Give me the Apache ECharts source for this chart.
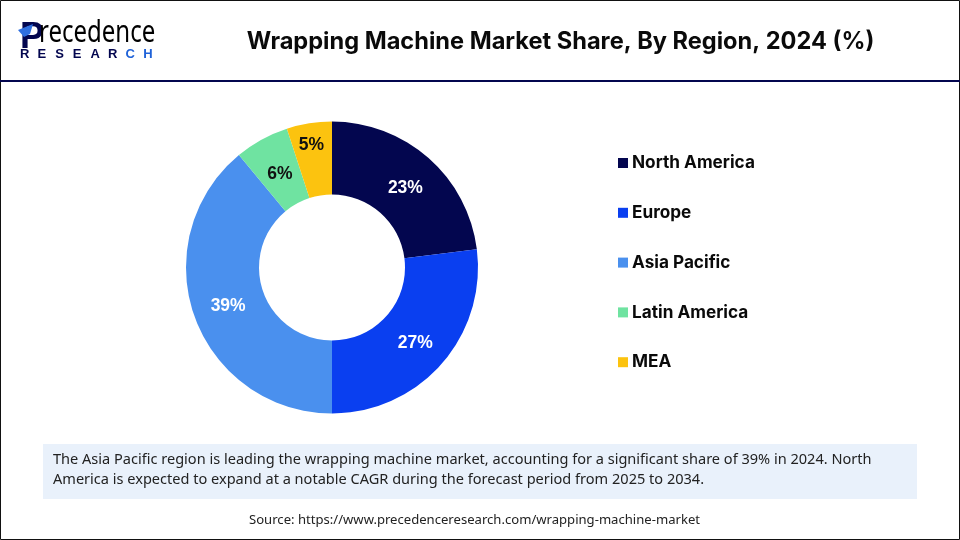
<!DOCTYPE html>
<html>
<head>
<meta charset="utf-8">
<style>
html, body { margin: 0; padding: 0; background: #fff; }
#chart { width: 960px; height: 540px; }
</style>
<script src="https://cdn.jsdelivr.net/npm/echarts@6/dist/echarts.min.js"></script>
</head>
<body>
<div id="chart"></div>
<script>
var regions = ['North America', 'Europe', 'Asia Pacific', 'Latin America', 'MEA'];
var shares = [23, 27, 39, 6, 5];
var colors = ['#03064f', '#0a3ff0', '#4a90ee', '#6fe3a1', '#fcc30f'];
var labelColors = ['#fff', '#fff', '#fff', '#111', '#111'];
// the source moved some labels by hand
var labelNudge = [[-1, 5], [-1, 1], [2, 1], [2, 5], [-3, -11]];

var titleText = 'Wrapping Machine Market Share, By Region, 2024 (%)';
var noteLines = [
    'The Asia Pacific region is leading the wrapping machine market, accounting for a significant share of 39% in 2024. North',
    'America is expected to expand at a notable CAGR during the forecast period from 2025 to 2034.'
];
var sourceText = 'Source: https://www.precedenceresearch.com/wrapping-machine-market';
var logoLetters = ['R', 'E', 'S', 'E', 'A', 'R', 'C', 'H'];

var chart = echarts.init(document.getElementById('chart'), null, { renderer: 'canvas' });

var pieData = regions.map(function (name, i) {
    return {
        name: name,
        value: shares[i],
        itemStyle: { color: colors[i] },
        label: { color: labelColors[i], offset: labelNudge[i] }
    };
});

// logo wordmark
var logo = [
    {
        type: 'text', left: 20, top: 20,
        style: { text: 'P', fill: '#03064f', font: 'bold 36px "Liberation Sans"' }
    },
    {
        type: 'polygon',
        shape: { points: [[18, 30], [33, 24], [30, 34], [24, 37]] },
        style: { fill: '#2f6fe0' }
    },
    {
        type: 'text', x: 39, y: 18, scaleY: 1.25,
        style: {
            text: 'recedence',
            font: '24px "Noto Sans"',
            textVerticalAlign: 'top',
            fill: new echarts.graphic.LinearGradient(0, 0, 1, 0, [
                { offset: 0, color: '#03064f' },
                { offset: 1, color: '#1f6ee8' }
            ])
        }
    }
];
logoLetters.forEach(function (ch, i) {
    logo.push({
        type: 'text', left: 20 + i * 17.6, top: 48,
        style: {
            text: ch,
            fill: i < 6 ? '#03064f' : '#1f62d8',
            font: 'bold 13px "Liberation Sans"'
        }
    });
});

var option = {
    animation: false,
    backgroundColor: '#fff',
    title: {
        text: titleText,
        left: 555.5,
        top: 25,
        textAlign: 'center',
        textStyle: { color: '#0a0a0a', fontFamily: 'Inter', fontWeight: 700, fontSize: 23.6 }
    },
    legend: {
        orient: 'vertical',
        left: 618,
        top: 153,
        padding: 0,
        itemWidth: 10,
        itemHeight: 10,
        itemGap: 29.8,
        icon: 'rect',
        selectedMode: false,
        data: regions,
        textStyle: {
            color: '#0a0a0a',
            fontFamily: 'Inter',
            fontWeight: 700,
            fontSize: 17.2,
            lineHeight: 20,
            padding: [0, 0, 0, -1]
        }
    },
    series: [
        {
            type: 'pie',
            center: [332, 267.5],
            radius: [73, 146],
            startAngle: 90,
            clockwise: true,
            silent: true,
            data: pieData,
            label: {
                position: 'inside',
                formatter: '{c}%',
                fontFamily: 'Liberation Sans',
                fontWeight: 'bold',
                fontSize: 17.5
            },
            labelLine: { show: false }
        }
    ],
    graphic: [
        {
            type: 'rect', silent: true,
            shape: { x: 0.5, y: 0.5, width: 959, height: 539 },
            style: { fill: 'none', stroke: '#111', lineWidth: 1 }
        },
        {
            type: 'rect', silent: true,
            shape: { x: 0, y: 80, width: 960, height: 2 },
            style: { fill: '#03064f' }
        },
        {
            type: 'rect', silent: true,
            shape: { x: 43, y: 444, width: 874, height: 55 },
            style: { fill: '#e9f1fb' }
        },
        {
            type: 'text', left: 53, top: 452,
            style: { text: noteLines[0], fill: '#222', font: '14.55px "Noto Sans"' }
        },
        {
            type: 'text', left: 53, top: 472,
            style: { text: noteLines[1], fill: '#222', font: '14.55px "Noto Sans"' }
        },
        {
            type: 'text', left: 249, top: 514,
            style: { text: sourceText, fill: '#222', font: '13.1px "Noto Sans"' }
        }
    ].concat(logo)
};

chart.setOption(option);
window.addEventListener('resize', chart.resize);
</script>
</body>
</html>
